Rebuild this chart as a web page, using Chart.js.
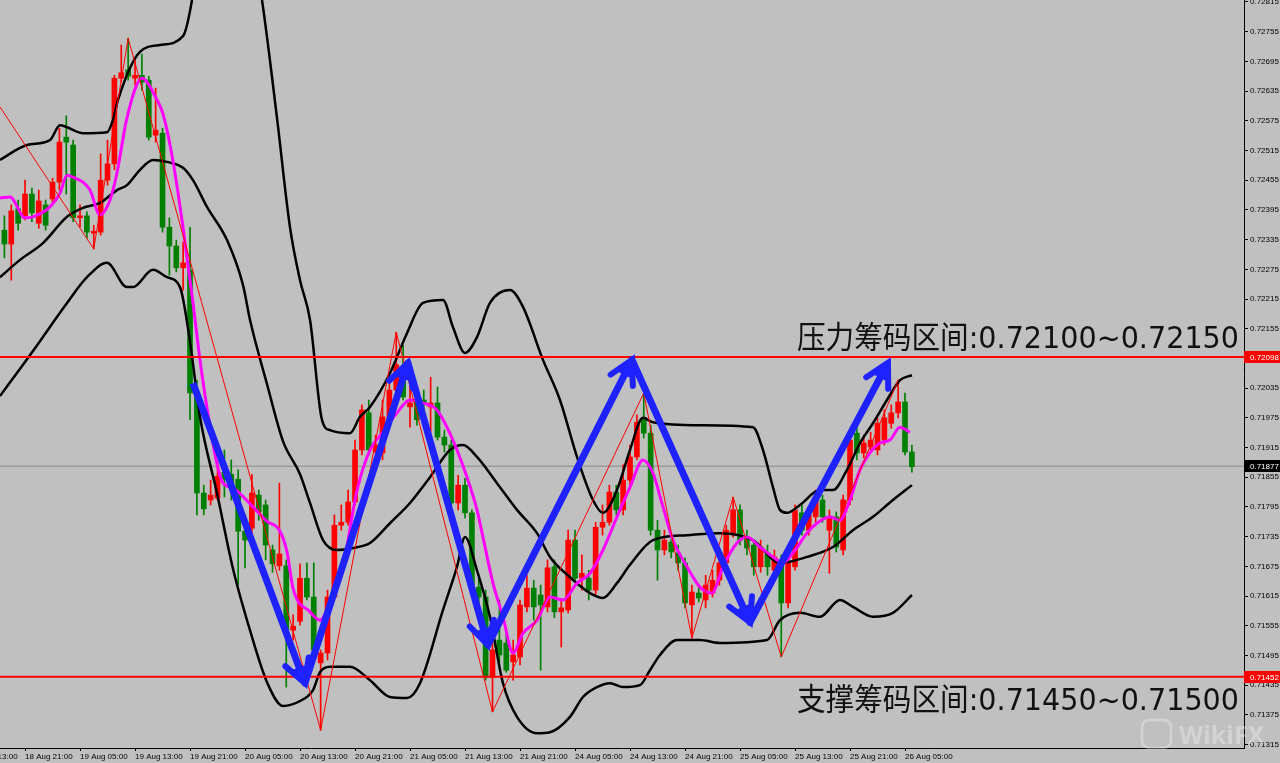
<!DOCTYPE html>
<html>
<head>
<meta charset="utf-8">
<script src="https://cdn.jsdelivr.net/npm/chart.js@4.4.1/dist/chart.umd.min.js"></script>
<style>
  html, body { margin: 0; padding: 0; background: #c0c0c0; }
  canvas { display: block; background: #c0c0c0; }
</style>
</head>
<body>
<canvas id="myChart" width="1280" height="763"></canvas>
<script>
// H1 candles, 18 Aug 18:00 .. 26 Aug 06:00 (index = bar number)
const opens = [0.72354,0.72326,0.72397,0.72383,0.72427,0.72368,0.72405,0.72417,0.72451,0.72542,0.72526,0.72379,0.72383,0.72348,0.72350,0.72455,0.72488,0.72661,0.72678,0.72661,0.72667,0.72657,0.72546,0.72550,0.72360,0.72322,0.72278,0.72274,0.72025,0.71823,0.71809,0.71813,0.71865,0.71861,0.71851,0.71746,0.71752,0.71819,0.71799,0.71708,0.71676,0.71676,0.71546,0.71564,0.71651,0.71613,0.71480,0.71500,0.71613,0.71758,0.71764,0.71805,0.71910,0.71985,0.71906,0.71904,0.71977,0.72031,0.72072,0.71997,0.72011,0.72011,0.71997,0.72005,0.71936,0.71920,0.71803,0.71839,0.71783,0.71633,0.71613,0.71451,0.71526,0.71520,0.71482,0.71492,0.71593,0.71631,0.71617,0.71593,0.71674,0.71583,0.71587,0.71728,0.71651,0.71651,0.71627,0.71754,0.71764,0.71825,0.71789,0.71849,0.71896,0.71975,0.71944,0.71748,0.71708,0.71724,0.71702,0.71682,0.71597,0.71621,0.71607,0.71621,0.71647,0.71682,0.71742,0.71789,0.71732,0.71718,0.71674,0.71702,0.71667,0.71682,0.71601,0.71674,0.71783,0.71748,0.71775,0.71809,0.71748,0.71775,0.71708,0.71809,0.71944,0.71904,0.71916,0.71910,0.71930,0.71964,0.71985,0.72007,0.71906];
const highs = [0.72383,0.72405,0.72415,0.72455,0.72439,0.72435,0.72415,0.72459,0.72560,0.72585,0.72536,0.72405,0.72391,0.72364,0.72508,0.72536,0.72667,0.72728,0.72742,0.72698,0.72710,0.72665,0.72641,0.72560,0.72379,0.72334,0.72330,0.72360,0.72051,0.71839,0.71849,0.71888,0.71910,0.71890,0.71870,0.71768,0.71861,0.71829,0.71809,0.71718,0.71843,0.71688,0.71577,0.71680,0.71682,0.71682,0.71506,0.71627,0.71779,0.71799,0.71829,0.71930,0.72001,0.72011,0.71940,0.72011,0.72051,0.72148,0.72122,0.72057,0.72021,0.72031,0.72057,0.72037,0.71950,0.71930,0.71859,0.71853,0.71789,0.71657,0.71627,0.71526,0.71607,0.71546,0.71526,0.71607,0.71657,0.71647,0.71637,0.71688,0.71688,0.71607,0.71748,0.71748,0.71698,0.71667,0.71764,0.71799,0.71839,0.71839,0.71880,0.71920,0.71981,0.72025,0.71960,0.71768,0.71748,0.71738,0.71718,0.71692,0.71637,0.71637,0.71657,0.71667,0.71698,0.71758,0.71815,0.71799,0.71748,0.71728,0.71728,0.71718,0.71708,0.71698,0.71692,0.71799,0.71799,0.71793,0.71829,0.71819,0.71789,0.71785,0.71819,0.71950,0.71960,0.71940,0.71946,0.71975,0.71991,0.72001,0.72051,0.72025,0.71920];
const lows = [0.72298,0.72253,0.72354,0.72375,0.72371,0.72358,0.72354,0.72405,0.72435,0.72427,0.72371,0.72360,0.72338,0.72316,0.72344,0.72445,0.72476,0.72653,0.72657,0.72647,0.72637,0.72536,0.72532,0.72350,0.72263,0.72270,0.72233,0.71971,0.71779,0.71779,0.71799,0.71809,0.71815,0.71809,0.71637,0.71672,0.71738,0.71768,0.71688,0.71663,0.71667,0.71431,0.71526,0.71556,0.71607,0.71496,0.71344,0.71486,0.71607,0.71748,0.71758,0.71799,0.71900,0.71900,0.71894,0.71890,0.71971,0.72021,0.72011,0.71956,0.71960,0.71981,0.71946,0.71930,0.71906,0.71797,0.71789,0.71773,0.71627,0.71587,0.71445,0.71381,0.71476,0.71461,0.71445,0.71476,0.71583,0.71566,0.71465,0.71583,0.71571,0.71512,0.71581,0.71643,0.71627,0.71607,0.71617,0.71738,0.71758,0.71779,0.71779,0.71839,0.71890,0.71934,0.71738,0.71647,0.71698,0.71692,0.71667,0.71591,0.71530,0.71603,0.71591,0.71613,0.71637,0.71667,0.71734,0.71718,0.71698,0.71657,0.71663,0.71657,0.71647,0.71492,0.71591,0.71667,0.71738,0.71738,0.71764,0.71764,0.71661,0.71704,0.71698,0.71799,0.71890,0.71894,0.71906,0.71900,0.71920,0.71954,0.71975,0.71900,0.71865];
const closes = [0.72326,0.72393,0.72368,0.72427,0.72389,0.72413,0.72364,0.72451,0.72532,0.72532,0.72379,0.72383,0.72350,0.72352,0.72455,0.72488,0.72661,0.72672,0.72665,0.72667,0.72653,0.72542,0.72556,0.72360,0.72322,0.72278,0.72288,0.72025,0.71823,0.71791,0.71819,0.71857,0.71851,0.71843,0.71746,0.71728,0.71823,0.71785,0.71718,0.71680,0.71700,0.71546,0.71554,0.71651,0.71613,0.71506,0.71500,0.71613,0.71758,0.71764,0.71805,0.71910,0.71991,0.71910,0.71920,0.71977,0.72031,0.72082,0.72017,0.72005,0.71971,0.72003,0.72005,0.71936,0.71920,0.71803,0.71839,0.71783,0.71633,0.71613,0.71451,0.71506,0.71496,0.71465,0.71496,0.71597,0.71631,0.71593,0.71597,0.71672,0.71583,0.71591,0.71728,0.71651,0.71661,0.71627,0.71754,0.71764,0.71825,0.71789,0.71849,0.71896,0.71966,0.71944,0.71748,0.71708,0.71728,0.71704,0.71682,0.71601,0.71623,0.71611,0.71637,0.71647,0.71682,0.71748,0.71789,0.71728,0.71712,0.71674,0.71714,0.71674,0.71694,0.71601,0.71682,0.71789,0.71748,0.71779,0.71815,0.71775,0.71775,0.71714,0.71809,0.71930,0.71904,0.71924,0.71930,0.71964,0.71975,0.71985,0.72007,0.71906,0.71876];

// indicator lines: [bar index, price]
const upperBand = [[-0.64,0.72496],[3.29,0.72526],[6.63,0.72536],[8.09,0.72566],[9.11,0.72562],[11.43,0.72550],[14.92,0.72552],[15.8,0.72577],[16.52,0.72617],[19.72,0.72714],[22.63,0.72728],[25.98,0.72746],[27.29,0.72819],[28.45,0.72940],[30.63,0.73041],[32.82,0.73061],[35.0,0.73001],[36.45,0.72900],[37.47,0.72819],[39.65,0.72581],[41.54,0.72360],[43.0,0.72253],[44.45,0.72173],[46.19,0.71971],[47.36,0.71950],[50.27,0.71944],[51.72,0.71977],[53.18,0.71997],[56.08,0.72065],[58.56,0.72146],[60.89,0.72207],[63.8,0.72213],[65.25,0.72158],[67.0,0.72106],[68.74,0.72138],[70.63,0.72207],[73.54,0.72233],[75.43,0.72199],[78.34,0.72092],[80.81,0.72011],[83.29,0.71896],[85.61,0.71809],[87.07,0.71783],[89.1,0.71829],[91.0,0.71910],[92.89,0.71975],[94.34,0.71966],[101.18,0.71960],[108.88,0.71956],[110.34,0.71910],[111.79,0.71835],[112.81,0.71789],[113.83,0.71783],[115.72,0.71799],[118.63,0.71829],[120.52,0.71829],[122.56,0.71870],[124.45,0.71924],[126.34,0.71964],[128.38,0.72011],[130.27,0.72051],[132.01,0.72061]];
const middleBand = [[-0.64,0.72259],[2.27,0.72294],[5.61,0.72328],[9.11,0.72381],[11.43,0.72399],[13.9,0.72409],[16.38,0.72435],[17.83,0.72445],[19.72,0.72476],[21.61,0.72496],[23.65,0.72492],[25.98,0.72480],[27.43,0.72455],[29.47,0.72401],[32.38,0.72334],[34.71,0.72243],[35.72,0.72173],[38.2,0.72043],[40.52,0.71928],[43.0,0.71861],[44.45,0.71803],[46.34,0.71728],[48.38,0.71708],[50.72,0.71712],[53.18,0.71722],[56.08,0.71762],[59.0,0.71803],[61.91,0.71855],[64.81,0.71910],[66.71,0.71920],[68.74,0.71896],[71.65,0.71843],[74.56,0.71789],[77.47,0.71742],[79.36,0.71694],[82.27,0.71653],[85.18,0.71621],[87.07,0.71611],[89.1,0.71641],[91.0,0.71678],[94.34,0.71728],[99.29,0.71738],[104.09,0.71742],[108.88,0.71728],[112.81,0.71682],[116.74,0.71694],[120.52,0.71714],[123.43,0.71748],[126.34,0.71775],[129.25,0.71809],[132.01,0.71839]];
const lowerBand = [[-0.64,0.72019],[4.16,0.72110],[9.11,0.72207],[12.01,0.72259],[14.92,0.72288],[17.83,0.72239],[18.7,0.72239],[21.61,0.72274],[23.65,0.72259],[25.54,0.72239],[26.99,0.72130],[28.45,0.71977],[30.92,0.71823],[33.25,0.71670],[35.72,0.71546],[38.2,0.71441],[40.52,0.71393],[43.0,0.71403],[44.89,0.71425],[45.9,0.71461],[47.36,0.71472],[50.27,0.71472],[53.18,0.71445],[56.08,0.71411],[58.56,0.71409],[60.45,0.71439],[63.8,0.71587],[65.83,0.71674],[67.0,0.71734],[68.74,0.71667],[70.63,0.71573],[72.52,0.71439],[74.56,0.71371],[77.47,0.71338],[79.36,0.71340],[82.27,0.71371],[84.16,0.71411],[86.19,0.71431],[88.09,0.71439],[89.98,0.71431],[92.45,0.71435],[93.9,0.71465],[95.36,0.71496],[97.83,0.71526],[101.18,0.71526],[104.09,0.71520],[110.92,0.71526],[112.81,0.71566],[115.72,0.71581],[118.63,0.71573],[121.54,0.71607],[123.43,0.71593],[126.34,0.71573],[129.25,0.71581],[132.01,0.71617]];
const fastMA = [[-0.64,0.72419],[0.81,0.72421],[3.0,0.72379],[4.16,0.72381],[6.63,0.72401],[8.09,0.72429],[9.11,0.72465],[9.98,0.72461],[11.43,0.72451],[12.45,0.72435],[13.9,0.72385],[15.36,0.72415],[16.38,0.72470],[17.83,0.72581],[20.01,0.72661],[22.2,0.72617],[23.07,0.72589],[24.52,0.72494],[25.98,0.72360],[27.43,0.72207],[28.45,0.72092],[29.47,0.71995],[30.92,0.71882],[31.8,0.71843],[33.25,0.71833],[36.16,0.71795],[38.2,0.71766],[40.09,0.71746],[41.11,0.71704],[41.98,0.71631],[44.45,0.71583],[45.9,0.71566],[47.36,0.71601],[49.25,0.71674],[51.3,0.71829],[53.18,0.71910],[55.07,0.71946],[57.1,0.71985],[59.0,0.72011],[60.89,0.72005],[62.92,0.71991],[64.38,0.71956],[65.83,0.71910],[67.29,0.71855],[68.74,0.71789],[69.61,0.71734],[71.07,0.71641],[72.52,0.71573],[73.98,0.71500],[75.43,0.71540],[77.47,0.71566],[79.36,0.71613],[81.25,0.71607],[83.29,0.71641],[85.18,0.71661],[87.07,0.71708],[89.1,0.71775],[91.0,0.71835],[92.89,0.71890],[94.34,0.71863],[95.8,0.71795],[97.25,0.71728],[99.29,0.71674],[101.18,0.71633],[102.92,0.71621],[104.52,0.71674],[106.56,0.71722],[108.01,0.71734],[109.9,0.71714],[111.79,0.71694],[113.25,0.71682],[114.7,0.71702],[116.74,0.71742],[118.19,0.71762],[120.09,0.71775],[121.54,0.71768],[122.99,0.71809],[124.45,0.71870],[125.9,0.71904],[127.36,0.71924],[128.81,0.71930],[130.27,0.71956],[131.72,0.71946]];
const zigzagPts = [[-0.64,0.72603],[13,0.72316],[18,0.72742],[46,0.71344],[57,0.72148],[71,0.71381],[93,0.72025],[100,0.71530],[106,0.71815],[113,0.71492],[130,0.72051]];
const arrowPts = [[27.43,0.72045],[43.72,0.71439],[58.7,0.72086],[70.34,0.71516],[91.29,0.72092],[108.45,0.71562],[128.52,0.72086]];

const resistanceLevel = 0.72098;
const supportLevel = 0.71452;
const lastPrice = 0.71877;
const resistanceText = "压力筹码区间:0.72100~0.72150";
const supportText = "支撑筹码区间:0.71450~0.71500";

const xTickIdx = [-5, 3, 11, 19, 27, 35, 43, 51, 59, 67, 75, 83, 91, 99, 107, 115, 123, 131];
const xTickLabels = ["18 Aug 13:00", "18 Aug 21:00", "19 Aug 05:00", "19 Aug 13:00", "19 Aug 21:00", "20 Aug 05:00", "20 Aug 13:00", "20 Aug 21:00", "21 Aug 05:00", "21 Aug 13:00", "21 Aug 21:00", "24 Aug 05:00", "24 Aug 13:00", "24 Aug 21:00", "25 Aug 05:00", "25 Aug 13:00", "25 Aug 21:00", "26 Aug 05:00"];
const yTickLabels = ["0.72815", "0.72755", "0.72695", "0.72635", "0.72575", "0.72515", "0.72455", "0.72395", "0.72335", "0.72275", "0.72215", "0.72155", "0.72095", "0.72035", "0.71975", "0.71915", "0.71855", "0.71795", "0.71735", "0.71675", "0.71615", "0.71555", "0.71495", "0.71435", "0.71375", "0.71315"];

const xMin = -0.64, xMax = 180.31;
const yMin = 0.71308, yMax = 0.72819;

const UP = "#ff0000", DOWN = "#008000", BLUE = "#1e22ff";
const candleColors = opens.map((o, i) => (closes[i] >= o ? UP : DOWN));
const toPts = arr => arr.map(p => ({ x: p[0], y: p[1] }));
const flat = v => [{ x: xMin, y: v }, { x: xMax, y: v }];

function lineSet(data, color, width, order, smooth) {
  return {
    type: "line",
    data: data,
    borderColor: color,
    borderWidth: width,
    pointRadius: 0,
    fill: false,
    cubicInterpolationMode: smooth ? "monotone" : "default",
    tension: 0,
    order: order,
  };
}

// caption squeezed to the width it has in the picture
function fitText(ctx, text, right, baseline, width) {
  const w = ctx.measureText(text).width;
  ctx.save();
  ctx.translate(right, baseline);
  ctx.scale(width / w, 1);
  ctx.textAlign = "right";
  ctx.fillText(text, 0, 0);
  ctx.restore();
}

const overlay = {
  id: "overlay",
  afterDatasetsDraw(chart) {
    const ctx = chart.ctx, xs = chart.scales.x, ys = chart.scales.y;
    ctx.save();
    ctx.strokeStyle = BLUE;
    ctx.fillStyle = BLUE;
    ctx.lineWidth = 6;
    ctx.lineCap = "round";
    for (let k = 1; k < arrowPts.length; k++) {
      const tx = xs.getPixelForValue(arrowPts[k][0]), ty = ys.getPixelForValue(arrowPts[k][1]);
      const fx = xs.getPixelForValue(arrowPts[k - 1][0]), fy = ys.getPixelForValue(arrowPts[k - 1][1]);
      const a = Math.atan2(ty - fy, tx - fx);
      const len = 26, spread = 0.5;
      ctx.beginPath();
      ctx.moveTo(tx - len * Math.cos(a - spread), ty - len * Math.sin(a - spread));
      ctx.lineTo(tx, ty);
      ctx.lineTo(tx - len * Math.cos(a + spread), ty - len * Math.sin(a + spread));
      ctx.stroke();
      ctx.beginPath();
      ctx.moveTo(tx, ty);
      ctx.lineTo(tx - 18 * Math.cos(a - 0.35), ty - 18 * Math.sin(a - 0.35));
      ctx.lineTo(tx - 18 * Math.cos(a + 0.35), ty - 18 * Math.sin(a + 0.35));
      ctx.closePath();
      ctx.fill();
    }
    ctx.restore();
  },
  afterDraw(chart) {
    const ctx = chart.ctx, ys = chart.scales.y, area = chart.chartArea;
    ctx.save();
    // price boxes on the axis
    [[resistanceLevel, "#ff0000"], [supportLevel, "#ff0000"], [lastPrice, "#000000"]].forEach(([v, bg]) => {
      const y = Math.round(ys.getPixelForValue(v));
      ctx.fillStyle = bg;
      ctx.fillRect(area.right, y - 6, chart.width - area.right, 12);
      ctx.fillStyle = "#ffffff";
      ctx.font = '8px "Liberation Sans", Arial, sans-serif';
      ctx.textAlign = "left";
      ctx.textBaseline = "middle";
      ctx.fillText(v.toFixed(5), area.right + 6, y + 0.5);
    });
    // zone captions
    ctx.fillStyle = "#111111";
    ctx.font = '31px "DejaVu Sans", "Noto Sans CJK SC", sans-serif';
    ctx.textBaseline = "alphabetic";
    fitText(ctx, resistanceText, 1239, 348, 442);
    fitText(ctx, supportText, 1239, 710, 442);
    // watermark
    ctx.globalAlpha = 0.3;
    ctx.strokeStyle = "#ffffff";
    ctx.fillStyle = "#ffffff";
    ctx.lineWidth = 2.5;
    ctx.beginPath();
    ctx.roundRect(1142, 720, 29, 28, 7);
    ctx.stroke();
    ctx.font = 'bold 25px "Open Sans", sans-serif';
    ctx.textAlign = "left";
    ctx.fillText("WikiFX", 1179, 744);
    ctx.restore();
  },
};

const ctx = document.getElementById("myChart");
const myChart = new Chart(ctx, {
  type: "bar",
  data: {
    datasets: [
      lineSet(flat(lastPrice), "#9a9a9a", 1.5, 10, false),
      {
        type: "bar",
        data: highs.map((h, i) => ({ x: i, y: [lows[i], h] })),
        backgroundColor: candleColors,
        barThickness: 1,
        grouped: false,
        order: 9,
      },
      {
        type: "bar",
        data: opens.map((o, i) => ({ x: i, y: [Math.min(o, closes[i]), Math.max(o, closes[i])] })),
        backgroundColor: candleColors,
        barThickness: 5,
        minBarLength: 1,
        grouped: false,
        order: 8,
      },
      lineSet(toPts(upperBand), "#000000", 2.5, 6, true),
      lineSet(toPts(middleBand), "#000000", 2.5, 6, true),
      lineSet(toPts(lowerBand), "#000000", 2.5, 6, true),
      lineSet(toPts(fastMA), "#ff00ff", 3, 5, true),
      lineSet(toPts(zigzagPts), "#ff0000", 1, 4, false),
      lineSet(flat(resistanceLevel), "#ff0000", 2, 3, false),
      lineSet(flat(supportLevel), "#ff0000", 2, 3, false),
      Object.assign(lineSet(toPts(arrowPts), BLUE, 7, 2, false), { borderJoinStyle: "round", borderCapStyle: "butt" }),
    ],
  },
  options: {
    responsive: false,
    animation: false,
    devicePixelRatio: 1,
    layout: { padding: 0 },
    plugins: { legend: { display: false }, tooltip: { enabled: false } },
    scales: {
      x: {
        type: "linear",
        min: xMin,
        max: xMax,
        offset: false,
        grid: { drawOnChartArea: false, drawTicks: true, tickLength: 3, color: "#000", offset: false },
        border: { display: true, color: "#000", width: 1 },
        afterBuildTicks: axis => { axis.ticks = xTickIdx.map(v => ({ value: v })); },
        afterFit: scale => { scale.height = 15; scale.paddingLeft = 0; scale.paddingRight = 0; },
        ticks: {
          autoSkip: false,
          maxRotation: 0,
          minRotation: 0,
          align: "start",
          padding: 1,
          color: "#000",
          font: { family: '"Liberation Sans", Arial, sans-serif', size: 8 },
          callback: (v, i) => xTickLabels[i],
        },
      },
      y: {
        position: "right",
        min: yMin,
        max: yMax,
        beginAtZero: false,
        grid: { drawOnChartArea: false, drawTicks: true, tickLength: 4, color: "#000" },
        border: { display: true, color: "#000", width: 1 },
        afterBuildTicks: axis => { axis.ticks = yTickLabels.map(s => ({ value: parseFloat(s) })); },
        afterFit: scale => { scale.width = 36; scale.paddingTop = 0; scale.paddingBottom = 0; },
        ticks: {
          padding: 2,
          color: "#000",
          font: { family: '"Liberation Sans", Arial, sans-serif', size: 8 },
          callback: (v, i) => yTickLabels[i],
        },
      },
    },
  },
  plugins: [overlay],
});
</script>
</body>
</html>
